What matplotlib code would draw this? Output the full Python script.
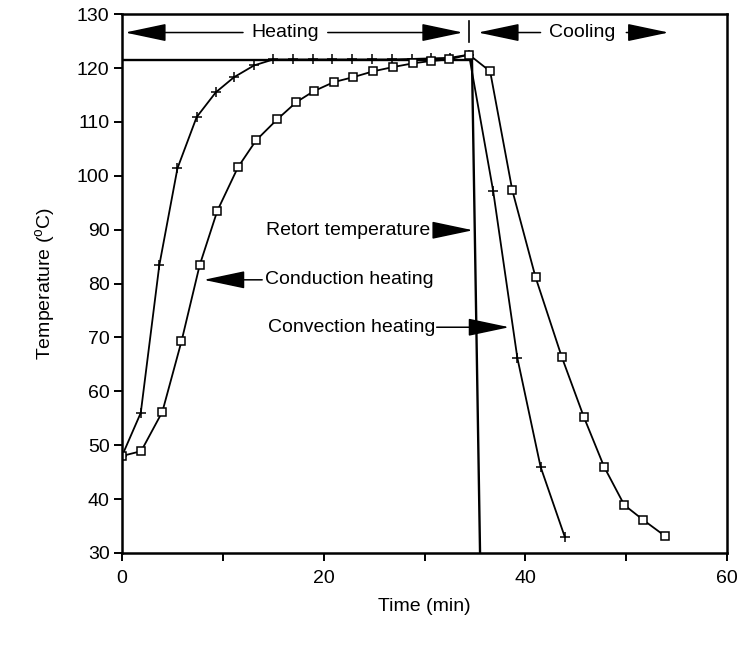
import matplotlib
matplotlib.use("Agg")
import matplotlib.pyplot as plt

plt.rcParams['font.family'] = ['Liberation Sans', 'DejaVu Sans']

# retort temperature profile
retort_time = [0, 34.7, 35.5]
retort_temp = [121.5, 121.5, 30]

# convection heating (+ markers)
conv_time = [0, 1.86, 3.7, 5.5, 7.4, 9.3, 11.1, 13.1, 15.0, 17.0, 18.9, 20.8, 22.8,
             24.8, 26.8, 28.8, 30.6, 32.5, 34.4, 36.8, 39.2, 41.5, 43.9]
conv_temp = [48, 56.0, 83.4, 101.4, 110.9, 115.5, 118.3, 120.5, 121.6, 121.6, 121.6,
             121.6, 121.6, 121.6, 121.6, 121.7, 121.8, 121.9, 122.5, 97.2, 66.2, 46.0, 33.0]

# conduction heating (square markers)
cond_time = [0, 1.9, 4.0, 5.9, 7.7, 9.45, 11.5, 13.3, 15.4, 17.3, 19.0, 21.0, 22.9, 24.9,
             26.9, 28.9, 30.6, 32.4, 34.4, 36.5, 38.7, 41.0, 43.6, 45.8, 47.8, 49.8, 51.7, 53.8]
cond_temp = [48, 48.9, 56.2, 69.3, 83.4, 93.5, 101.6, 106.6, 110.5, 113.7, 115.7, 117.4,
             118.3, 119.4, 120.2, 120.9, 121.3, 121.6, 122.5, 119.4, 97.3, 81.2, 66.4, 55.2,
             46.0, 38.9, 36.1, 33.2]

fs = 14

fig = plt.figure(figsize=(7.38, 6.46), dpi=100)
ax = fig.add_axes([0.1653, 0.144, 0.82, 0.834])

ax.plot(retort_time, retort_temp, color='black', lw=1.7)
ax.plot(conv_time, conv_temp, color='black', lw=1.3, marker='+', ms=7, mew=1.1)
ax.plot(cond_time, cond_temp, color='black', lw=1.3, marker='s', ms=5.5,
        mfc='white', mec='black', mew=1.1)

ax.set_xlim(0, 60)
ax.set_ylim(30, 130)
ax.set_xticks([0, 20, 40, 60])
ax.set_xticks([10, 30, 50], minor=True)
ax.set_yticks(range(30, 131, 10))
ax.tick_params(axis='both', which='both', direction='out', width=1.4, labelsize=fs)
ax.tick_params(axis='y', length=6, pad=3)
ax.tick_params(axis='x', which='both', length=6, pad=6)
for s in ax.spines.values():
    s.set_linewidth(1.8)

ax.set_xlabel('Time (min)', fontsize=fs, labelpad=8)
ax.set_ylabel(r'Temperature ($\mathregular{^{o}}$C)', fontsize=fs, labelpad=14)

arrow = dict(arrowstyle='-|>,head_length=2.6,head_width=0.55', color='black',
             lw=1.1, mutation_scale=10, shrinkA=0, shrinkB=0)

# heating / cooling banner
ax.text(16.2, 126.6, 'Heating', fontsize=fs, ha='center', va='center')
ax.annotate('', xy=(0.3, 126.6), xytext=(12.0, 126.6), arrowprops=arrow)
ax.annotate('', xy=(33.8, 126.6), xytext=(20.4, 126.6), arrowprops=arrow)
ax.plot([34.4, 34.4], [124.8, 128.8], color='black', lw=1.2)
ax.text(45.6, 126.6, 'Cooling', fontsize=fs, ha='center', va='center')
ax.annotate('', xy=(35.3, 126.6), xytext=(41.5, 126.6), arrowprops=arrow)
ax.annotate('', xy=(54.2, 126.6), xytext=(50.0, 126.6), arrowprops=arrow)

# curve labels
ax.text(30.6, 89.9, 'Retort temperature', fontsize=fs, ha='right', va='center')
ax.annotate('', xy=(34.8, 89.9), xytext=(31.4, 89.9), arrowprops=arrow)
ax.text(14.2, 80.7, 'Conduction heating', fontsize=fs, ha='left', va='center')
ax.annotate('', xy=(8.1, 80.7), xytext=(13.9, 80.7), arrowprops=arrow)
ax.text(14.5, 71.9, 'Convection heating', fontsize=fs, ha='left', va='center')
ax.annotate('', xy=(38.4, 71.9), xytext=(31.2, 71.9), arrowprops=arrow)

fig.savefig('out.png', dpi=100)
